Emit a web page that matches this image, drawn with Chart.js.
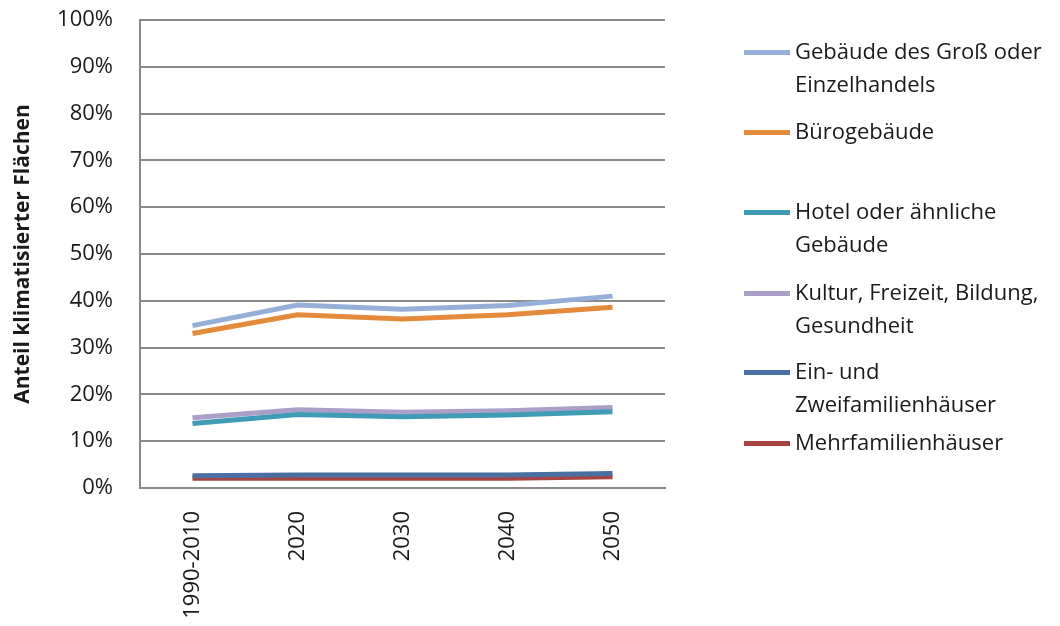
<!DOCTYPE html>
<html><head><meta charset="utf-8">
<script src="https://cdn.jsdelivr.net/npm/chart.js@4/dist/chart.umd.min.js"></script>
<style>
html,body{margin:0;padding:0;background:#fff;}
#wrap{position:relative;width:1060px;height:626px;}
#legend{position:absolute;left:744px;top:0;font-family:"Open Sans",sans-serif;font-size:22px;color:#1a1a1a;}
.item{position:absolute;left:0;width:320px;}
.item .sw{position:absolute;left:0;width:46px;height:5px;}
.item .tx{position:absolute;left:51px;line-height:33px;white-space:nowrap;}
</style></head>
<body><div id="wrap"><canvas id="c" width="1060" height="626"></canvas><div id="legend"></div></div>
<script>
const categories = ["1990-2010","2020","2030","2040","2050"];
const seriesNames = [
  ["Gebäude des Groß oder","Einzelhandels"],
  ["Bürogebäude"],
  ["Hotel oder ähnliche","Gebäude"],
  ["Kultur, Freizeit, Bildung,","Gesundheit"],
  ["Ein- und","Zweifamilienhäuser"],
  ["Mehrfamilienhäuser"]
];
const grossHandel = [34.7, 39.1, 38.2, 39.0, 41.0];
const buero = [33.0, 37.0, 36.1, 37.0, 38.6];
const hotel = [13.8, 15.7, 15.2, 15.6, 16.3];
const kultur = [15.0, 16.7, 16.2, 16.5, 17.2];
const einZwei = [2.6, 2.8, 2.8, 2.8, 3.1];
const mehr = [2.1, 2.1, 2.1, 2.1, 2.4];
const yTicks = [0,10,20,30,40,50,60,70,80,90,100];
const colors = ["#95b0d8","#e38a3b","#3e9db5","#ab9fc8","#4a6fa3","#a84442"];
const values = [grossHandel, buero, hotel, kultur, einZwei, mehr];
const legendY = [52, 132, 212, 293, 372, 443];

const datasets = values.map((v,i)=>({label:seriesNames[i].join(" "),data:v,borderColor:colors[i],backgroundColor:colors[i],borderWidth:5,pointRadius:0,tension:0,fill:false,order:i}));

new Chart(document.getElementById('c'),{
  type:'line',
  data:{labels:categories,datasets:datasets},
  options:{
    responsive:false,animation:false,
    layout:{padding:{top:20,right:395,left:0,bottom:0}},
    plugins:{legend:{display:false},tooltip:{enabled:false}},
    scales:{
      x:{
        offset:true,
        grid:{display:false,drawTicks:false},
        border:{display:true,color:'#8a8a8a',width:2},
        ticks:{maxRotation:90,minRotation:90,color:'#1a1a1a',font:{family:'Open Sans',size:22},padding:23},
        afterFit:(s)=>{s.height=138;}
      },
      y:{
        min:0,max:100,
        afterBuildTicks:(s)=>{s.ticks=yTicks.map(v=>({value:v}));},
        grid:{color:'#8a8a8a',lineWidth:2,drawTicks:true,tickLength:27,tickColor:'rgba(0,0,0,0)'},
        border:{display:true,color:'#8a8a8a',width:2},
        ticks:{color:'#1a1a1a',font:{family:'Open Sans',size:22},padding:0,callback:(v)=>v+'%'},
        title:{display:true,text:'Anteil klimatisierter Flächen',color:'#1a1a1a',font:{family:'Open Sans',size:21,weight:'bold'},padding:{top:10,bottom:4}},
        afterFit:(s)=>{s.width=140;}
      }
    }
  }
});

const lg=document.getElementById('legend');
seriesNames.forEach((n,i)=>{
  const it=document.createElement('div');it.className='item';it.style.top=(legendY[i])+'px';
  const sw=document.createElement('div');sw.className='sw';sw.style.background=colors[i];sw.style.top='-2px';
  const tx=document.createElement('div');tx.className='tx';tx.style.top='-18px';tx.innerHTML=n.join('<br>');
  it.appendChild(sw);it.appendChild(tx);lg.appendChild(it);
});
</script></body></html>
